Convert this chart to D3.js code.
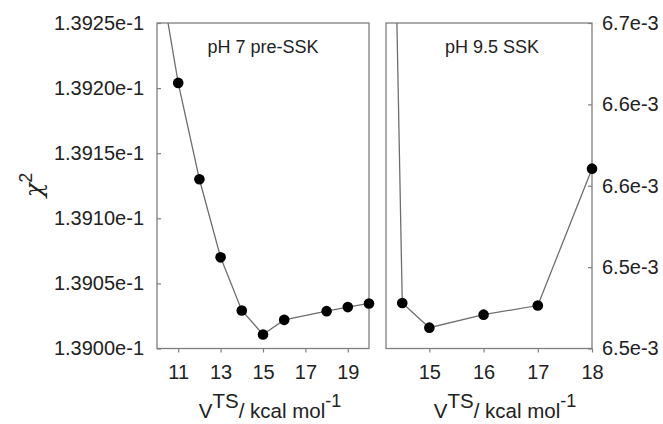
<!DOCTYPE html>
<html>
<head>
<meta charset="utf-8">
<script src="https://cdn.jsdelivr.net/npm/d3@7"></script>
<style>
  body { margin: 0; background: #fff; }
  svg { display: block; font-family: "Liberation Sans", Arial, sans-serif; }
</style>
</head>
<body>
<svg width="663" height="424"></svg>
<script>
// pH 7 pre-SSK series
const leftX = [10, 11, 12, 13, 14, 15, 16, 18, 19, 20];
const leftY = [0.13930, 0.139204, 0.139130, 0.139070, 0.1390292, 0.1390108, 0.139022, 0.1390287, 0.1390318, 0.1390346];
const leftXTicks = [11, 13, 15, 17, 19];
const leftYTicks = [0.13900, 0.13905, 0.13910, 0.13915, 0.13920, 0.13925];

// pH 9.5 SSK series
const rightX = [14, 14.5, 15, 16, 17, 18];
const rightY = [7.4e-3, 6.528e-3, 6.5128e-3, 6.5208e-3, 6.5264e-3, 6.6105e-3];
const rightXTicks = [15, 16, 17, 18];
const rightYTicks = [6.5e-3, 6.55e-3, 6.6e-3, 6.65e-3, 6.7e-3];
const rightYLabels = ["6.5e-3", "6.5e-3", "6.6e-3", "6.6e-3", "6.7e-3"];

const svg = d3.select('svg');
const plotTop = 23, plotBottom = 348.5;
const frameColor = '#7f7f7f';
const textColor = '#222';

function panel(opts) {
  const x = d3.scaleLinear().domain(opts.xDomain).range([opts.x0, opts.x1]);
  const y = d3.scaleLinear().domain(opts.yDomain).range([plotBottom, plotTop]);
  const g = svg.append('g');

  // clip so the steep ends run off the top
  const clipId = 'clip-' + opts.id;
  svg.append('clipPath').attr('id', clipId)
    .append('rect')
    .attr('x', opts.x0 - 8).attr('y', plotTop)
    .attr('width', opts.x1 - opts.x0 + 16).attr('height', plotBottom - plotTop + 8);

  // frame
  g.append('rect')
    .attr('x', opts.x0).attr('y', plotTop)
    .attr('width', opts.x1 - opts.x0).attr('height', plotBottom - plotTop)
    .attr('fill', 'none').attr('stroke', frameColor).attr('stroke-width', 1.3);

  // x axis (ticks outward)
  const xAxis = g.append('g')
    .attr('transform', `translate(0,${plotBottom})`)
    .call(d3.axisBottom(x).tickValues(opts.xTicks).tickSize(4).tickPadding(12).tickFormat(d3.format('d')));
  xAxis.select('.domain').remove();
  xAxis.selectAll('line').attr('stroke', frameColor).attr('stroke-width', 1.2);
  xAxis.selectAll('text').attr('font-size', 20).attr('fill', textColor)
    .attr('font-family', '"Liberation Sans", Arial, sans-serif');

  // y axis (ticks inward)
  const yAxisFn = opts.yRight ? d3.axisRight(y) : d3.axisLeft(y);
  const yAxis = g.append('g')
    .attr('transform', `translate(${opts.yRight ? opts.x1 : opts.x0},0)`)
    .call(yAxisFn.tickValues(opts.yTicks).tickSizeInner(-4).tickSizeOuter(0)
      .tickPadding(opts.yRight ? 10 : 13)
      .tickFormat((d, i) => opts.yLabels ? opts.yLabels[i] : d.toExponential(4)));
  yAxis.select('.domain').remove();
  yAxis.selectAll('line').attr('stroke', frameColor).attr('stroke-width', 1.2);
  yAxis.selectAll('text').attr('font-size', 20).attr('fill', textColor)
    .attr('font-family', '"Liberation Sans", Arial, sans-serif');

  // data
  const pts = opts.xs.map((d, i) => ({ x: d, y: opts.ys[i] }));
  const line = d3.line().x(d => x(d.x)).y(d => y(d.y));
  const data = g.append('g').attr('clip-path', `url(#${clipId})`);
  data.append('path')
    .datum(pts)
    .attr('d', line)
    .attr('fill', 'none')
    .attr('stroke', '#6e6e6e')
    .attr('stroke-width', 1.3);
  data.selectAll('circle')
    .data(pts)
    .join('circle')
    .attr('cx', d => x(d.x))
    .attr('cy', d => y(d.y))
    .attr('r', 5.3)
    .attr('fill', '#000');

  // panel label
  g.append('text')
    .attr('x', (opts.x0 + opts.x1) / 2 + opts.labelDx)
    .attr('y', 53)
    .attr('text-anchor', 'middle')
    .attr('font-size', 18)
    .attr('fill', textColor)
    .text(opts.label);

  // x title
  const t = g.append('text')
    .attr('x', (opts.x0 + opts.x1) / 2 + opts.titleDx)
    .attr('y', 418)
    .attr('text-anchor', 'middle')
    .attr('font-size', 20.5)
    .attr('fill', textColor);
  t.append('tspan').text('V');
  t.append('tspan').attr('dy', -10).text('TS');
  t.append('tspan').attr('dy', 10).text('/ kcal mol');
  t.append('tspan').attr('dy', -11).attr('font-size', 18).text('-1');
}

panel({
  id: 'left', x0: 157, x1: 369,
  xDomain: [10, 20], yDomain: [0.13900, 0.13925],
  xTicks: leftXTicks, yTicks: leftYTicks,
  xs: leftX, ys: leftY,
  label: 'pH 7 pre-SSK', labelDx: 0, titleDx: 7
});

panel({
  id: 'right', x0: 386, x1: 592, yRight: true,
  xDomain: [14.2, 18], yDomain: [6.5e-3, 6.7e-3],
  xTicks: rightXTicks, yTicks: rightYTicks, yLabels: rightYLabels,
  xs: rightX, ys: rightY,
  label: 'pH 9.5 SSK', labelDx: 3, titleDx: 16
});

// y title
const yt = svg.append('text')
  .attr('transform', 'translate(42,185) rotate(-90)')
  .attr('text-anchor', 'middle')
  .attr('font-size', 24)
  .attr('fill', textColor);
yt.append('tspan').attr('font-family', '"DejaVu Serif", serif').attr('font-style', 'italic').text('χ');
yt.append('tspan').attr('dy', -10).attr('font-size', 18).text('2');
</script>
</body>
</html>
